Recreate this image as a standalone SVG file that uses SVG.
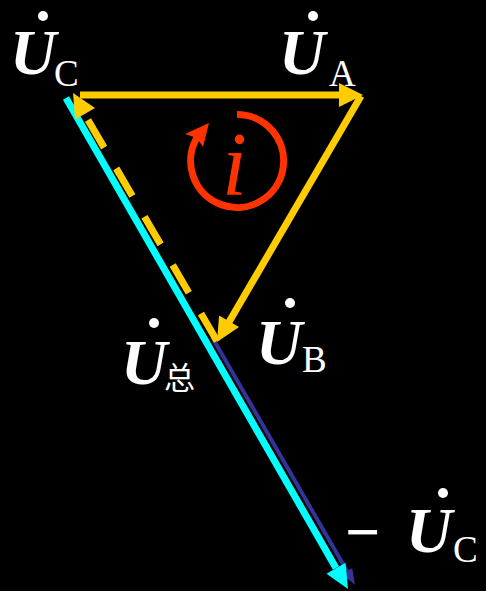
<svg xmlns="http://www.w3.org/2000/svg" width="486" height="591" viewBox="0 0 486 591">
<style>
.U{font-family:"Liberation Serif","Times New Roman",serif;font-weight:bold;font-style:italic;font-size:64px;fill:#fff}
.sub{font-family:"Liberation Serif","Times New Roman",serif;font-size:37px;fill:#fff}
.cjk{font-family:"Liberation Serif","Noto Sans CJK SC",serif;font-size:31px;fill:#fff}
.dot{fill:#fff}
.y{stroke:#FFCC00;stroke-width:7;fill:none}
.yh{fill:#FFCC00}
</style>
<rect width="486" height="591" fill="#000"/>
<g id="connectors">
  <line x1="212" y1="337" x2="347" y2="571" stroke="#333399" stroke-width="4"/>
  <polygon points="355,585 352.2,568.1 341.8,574.1" fill="#333399"/>
  <line x1="66" y1="98" x2="336" y2="568" stroke="#00FFFF" stroke-width="7"/>
  <polygon points="348,589 345.5,562.7 326.5,573.7" fill="#00FFFF"/>
  <line class="y" x1="80" y1="95" x2="341" y2="95"/>
  <polygon class="yh" points="363,95 339,83 339,107"/>
  <line class="y" x1="361" y1="96" x2="229" y2="322"/>
  <polygon class="yh" points="217,342 239,327 219.1,315.4"/>
  <line class="y" x1="88" y1="120" x2="217" y2="341" stroke-dasharray="32 24"/>
  <polygon class="yh" points="73,93 95,107.9 75.2,119.5"/>
</g>
<g id="current">
  <path d="M237 114.5 A46.5 46.5 0 1 1 197 137.5" stroke="#FF3300" stroke-width="7" fill="none"/>
  <polygon points="209,123 185,134 197,138 203,147" fill="#FF3300"/>
  <text x="222" y="195" font-family="Liberation Serif,serif" font-style="italic" font-size="90" fill="#FF3300">i</text>
</g>
<g id="UC">
  <circle class="dot" cx="43" cy="16" r="5"/>
  <text class="U" x="10" y="74">U</text>
  <text class="sub" x="54" y="86">C</text>
</g>
<g id="UA">
  <circle class="dot" cx="313" cy="16" r="5"/>
  <text class="U" x="279" y="74">U</text>
  <text class="sub" x="329" y="86">A</text>
</g>
<g id="UB">
  <circle class="dot" cx="290" cy="303" r="5"/>
  <text class="U" x="256" y="364">U</text>
  <text class="sub" x="302" y="372">B</text>
</g>
<g id="Utotal">
  <circle class="dot" cx="154" cy="323" r="5"/>
  <text class="U" x="121" y="384">U</text>
  <text class="cjk" x="164" y="389">总</text>
</g>
<g id="minusUC">
  <text x="345" y="553" font-family="Liberation Serif,serif" font-weight="bold" font-size="62" fill="#fff">−</text>
  <circle class="dot" cx="443" cy="493" r="5"/>
  <text class="U" x="406" y="552">U</text>
  <text class="sub" x="453" y="562">C</text>
</g>
</svg>
